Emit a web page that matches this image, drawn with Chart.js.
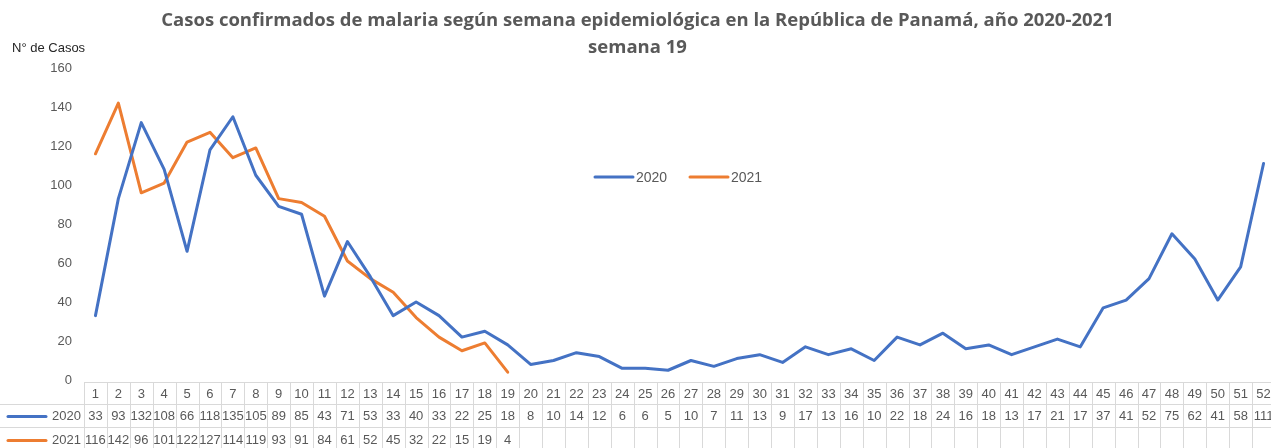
<!DOCTYPE html>
<html>
<head>
<meta charset="utf-8">
<script src="https://cdn.jsdelivr.net/npm/chart.js@4.4.1/dist/chart.umd.min.js"></script>
<style>
  html, body { margin: 0; padding: 0; background: #fff; overflow: hidden; }
  #wrap { position: absolute; left: 0; top: 0; width: 1290px; height: 448px; }
</style>
</head>
<body>
<div id="wrap"><canvas id="malariaChart" width="1290" height="448"></canvas></div>
<script>
// semanas epidemiológicas
const semanas = [];
for (let i = 1; i <= 52; i++) semanas.push(String(i));

const casos2020 = [33, 93, 132, 108, 66, 118, 135, 105, 89, 85,
  43, 71, 53, 33, 40, 33, 22, 25, 18, 8,
  10, 14, 12, 6, 6, 5, 10, 7, 11, 13,
  9, 17, 13, 16, 10, 22, 18, 24, 16, 18,
  13, 17, 21, 17, 37, 41, 52, 75, 62, 41,
  58, 111];
const casos2021 = [116, 142, 96, 101, 122, 127, 114, 119, 93, 91,
  84, 61, 52, 45, 32, 22, 15, 19, 4];

const yTicks = [0, 20, 40, 60, 80, 100, 120, 140, 160];

const GREY = '#595959';
const GRID = '#d9d9d9';
const FONT = '"Liberation Sans", Arial, sans-serif';

// leyenda, etiqueta del eje y tabla de datos (estilo Excel)
const extrasPlugin = {
  id: 'extras',
  afterDraw(chart) {
    const ctx = chart.ctx;
    const x = chart.scales.x;
    const half = (x.getPixelForValue(1) - x.getPixelForValue(0)) / 2;
    const right = x.getPixelForValue(semanas.length - 1) + half;
    const left = x.getPixelForValue(0) - half;
    const rows = [382, 404, 427, 452];

    ctx.save();

    // N° de Casos
    ctx.fillStyle = '#262626';
    ctx.font = '13px ' + FONT;
    ctx.textAlign = 'left';
    ctx.textBaseline = 'middle';
    ctx.fillText('N° de Casos', 12, 48);

    // leyenda
    ctx.font = '14px ' + FONT;
    let lx = 595;
    chart.data.datasets.forEach(ds => {
      ctx.strokeStyle = ds.borderColor;
      ctx.lineWidth = 3;
      ctx.lineCap = 'round';
      ctx.beginPath();
      ctx.moveTo(lx, 177);
      ctx.lineTo(lx + 38, 177);
      ctx.stroke();
      ctx.fillStyle = GREY;
      ctx.fillText(ds.label, lx + 41, 178);
      lx += 95;
    });

    // tabla
    ctx.strokeStyle = GRID;
    ctx.lineWidth = 1;
    ctx.lineCap = 'butt';
    ctx.beginPath();
    ctx.moveTo(Math.round(left) + 0.5, rows[0] + 0.5);
    ctx.lineTo(right, rows[0] + 0.5);
    for (let r = 1; r < 3; r++) {
      ctx.moveTo(0, rows[r] + 0.5);
      ctx.lineTo(right, rows[r] + 0.5);
    }
    for (let i = 0; i <= semanas.length; i++) {
      const cx = Math.round(left + i * half * 2) + 0.5;
      ctx.moveTo(cx, rows[0]);
      ctx.lineTo(cx, rows[3]);
    }
    ctx.stroke();

    ctx.font = '13px ' + FONT;
    ctx.fillStyle = GREY;
    ctx.textAlign = 'center';
    semanas.forEach((s, i) => {
      ctx.fillText(s, x.getPixelForValue(i), (rows[0] + rows[1]) / 2 + 1);
    });

    chart.data.datasets.forEach((ds, d) => {
      const cy = (rows[d + 1] + rows[d + 2]) / 2 + 1;
      ctx.strokeStyle = ds.borderColor;
      ctx.lineWidth = 3;
      ctx.lineCap = 'round';
      ctx.beginPath();
      ctx.moveTo(8, cy);
      ctx.lineTo(46, cy);
      ctx.stroke();
      ctx.fillStyle = GREY;
      ctx.textAlign = 'right';
      ctx.fillText(ds.label, 81, cy);
      ctx.textAlign = 'center';
      ds.data.forEach((v, i) => {
        ctx.fillText(String(v), x.getPixelForValue(i), cy);
      });
    });

    ctx.restore();
  }
};

const ctx = document.getElementById('malariaChart').getContext('2d');
const malariaChart = new Chart(ctx, {
  type: 'line',
  data: {
    labels: semanas,
    datasets: [
      {
        label: '2020',
        data: casos2020,
        borderColor: '#4472C4',
        backgroundColor: '#4472C4',
        borderWidth: 3,
        pointRadius: 0,
        tension: 0,
        fill: false
      },
      {
        label: '2021',
        data: casos2021,
        borderColor: '#ED7D31',
        backgroundColor: '#ED7D31',
        borderWidth: 3,
        pointRadius: 0,
        tension: 0,
        fill: false
      }
    ]
  },
  options: {
    responsive: false,
    animation: false,
    devicePixelRatio: 1,
    layout: { padding: { left: 0, right: 15, top: 0, bottom: 68 } },
    elements: { line: { borderJoinStyle: 'round', borderCapStyle: 'round' } },
    plugins: {
      legend: { display: false },
      tooltip: { enabled: false },
      title: {
        display: true,
        text: ['Casos confirmados de malaria según semana epidemiológica en la República de Panamá, año 2020-2021', 'semana 19'],
        color: GREY,
        font: { family: '"Open Sans", ' + FONT, size: 18.5, weight: 'bold', lineHeight: 1.47 },
        padding: { top: 7, bottom: 6.6 }
      }
    },
    scales: {
      x: {
        type: 'category',
        offset: true,
        display: false
      },
      y: {
        min: 0,
        max: 160,
        afterFit: s => { s.width = 84; },
        afterBuildTicks: s => { s.ticks = yTicks.map(v => ({ value: v })); },
        grid: { display: false, drawTicks: false },
        border: { display: false },
        ticks: {
          color: GREY,
          padding: 12,
          font: { family: FONT, size: 13 }
        }
      }
    }
  },
  plugins: [extrasPlugin]
});
</script>
</body>
</html>
